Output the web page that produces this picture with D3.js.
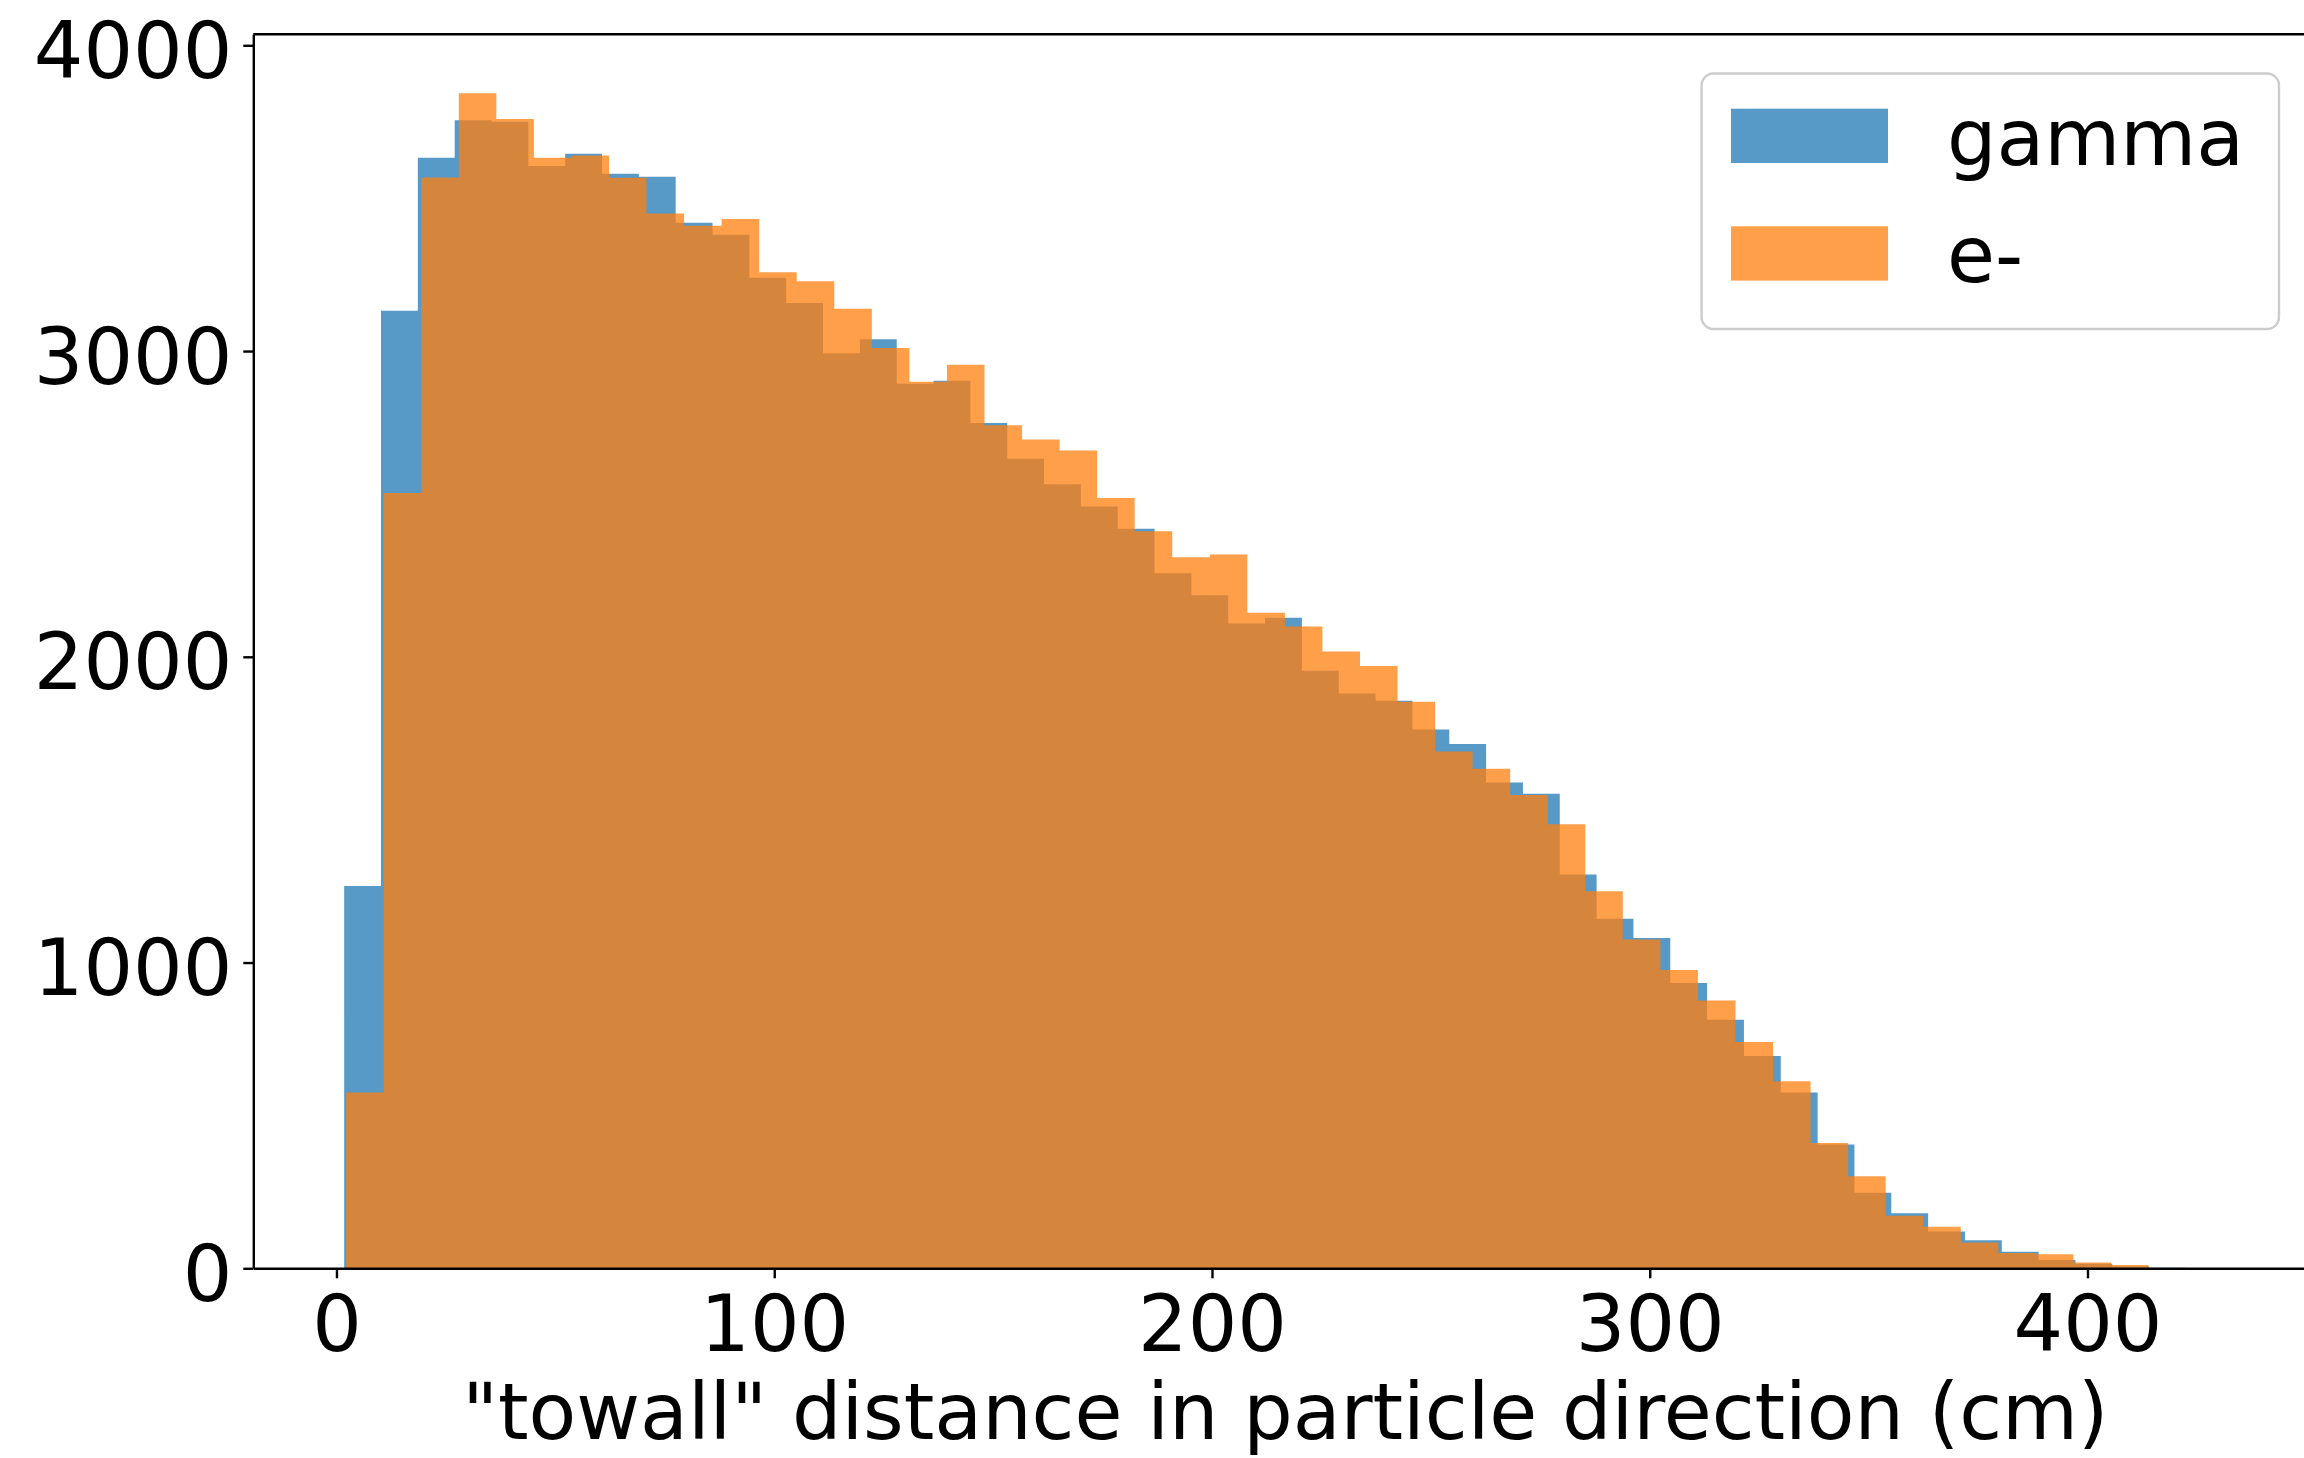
<!DOCTYPE html>
<html>
<head>
<meta charset="utf-8">
<script src="https://cdn.jsdelivr.net/npm/d3@7"></script>
<style>
  html, body { margin: 0; padding: 0; background: #ffffff; }
  svg { display: block; }
  text { font-family: "DejaVu Sans", sans-serif; fill: #000; }
</style>
</head>
<body>
<script>
// Histogram of the "towall" distance for two particle types, 50 equal-width bins each.
const seriesNames = ["gamma", "e-"];
const seriesColors = ["#1f77b4", "#ff7f0e"];
const binCount = 50;

// Data range covered by the bins of each sample (cm)
const gammaRange = [1.76, 422.5];
const electronRange = [2.21, 431.1];

// Counts per bin
const gammaCounts = [
  1250, 3132, 3632, 3755, 3750, 3605, 3645, 3580, 3570, 3420,
  3380, 3240, 3157, 2993, 3039, 2893, 2903, 2765, 2648, 2564,
  2492, 2419, 2273, 2201, 2109, 2128, 1954, 1880, 1856, 1762,
  1715, 1589, 1552, 1288, 1143, 1080, 933, 813, 694, 575,
  405, 247, 180, 120, 92, 54, 27, 15, 6, 2
];
const electronCounts = [
  575, 2536, 3568, 3843, 3759, 3632, 3640, 3567, 3450, 3410,
  3432, 3258, 3228, 3138, 3010, 2900, 2955, 2757, 2711, 2675,
  2519, 2411, 2326, 2335, 2144, 2099, 2017, 1970, 1853, 1690,
  1634, 1548, 1452, 1233, 1075, 976, 876, 740, 612, 410,
  301, 172, 136, 84, 50, 46, 19, 11, 1, 1
];

// Axis ticks
const xTicks = [0, 100, 200, 300, 400];
const yTicks = [0, 1000, 2000, 3000, 4000];
const xLabel = "\"towall\" distance in particle direction (cm)";

const W = 2304, H = 1458;
const plot = { left: 253.3, right: 2317.3, top: 34.3, bottom: 1268.3 };
const fontSize = 78;
const lineW = 2.4;

const svg = d3.select("body").append("svg")
  .attr("width", W).attr("height", H)
  .attr("viewBox", `0 0 ${W} ${H}`);

svg.append("rect").attr("width", W).attr("height", H).attr("fill", "#fff");

const x = d3.scaleLinear().domain([-19.0, 452.5]).range([plot.left, plot.right]);
const y = d3.scaleLinear().domain([0, 4036]).range([plot.bottom, plot.top]);

svg.append("defs").append("clipPath").attr("id", "plot-clip")
  .append("rect")
  .attr("x", plot.left).attr("y", plot.top)
  .attr("width", plot.right - plot.left).attr("height", plot.bottom - plot.top);

function binEdges(range) {
  const w = (range[1] - range[0]) / binCount;
  return d3.range(binCount + 1).map(i => range[0] + i * w);
}

// Step outline of a histogram: one point per bin edge, the last edge repeats the last count
function stepPoints(range, counts) {
  const e = binEdges(range);
  return e.map((edge, i) => ({ edge, count: counts[Math.min(i, counts.length - 1)] }));
}

const series = [
  { name: seriesNames[0], color: seriesColors[0], pts: stepPoints(gammaRange, gammaCounts) },
  { name: seriesNames[1], color: seriesColors[1], pts: stepPoints(electronRange, electronCounts) }
];

const area = d3.area()
  .curve(d3.curveStepAfter)
  .x(d => x(d.edge))
  .y0(y(0))
  .y1(d => y(d.count));

const barsG = svg.append("g").attr("clip-path", "url(#plot-clip)");
series.forEach(s => {
  barsG.append("path")
    .datum(s.pts)
    .attr("d", area)
    .attr("fill", s.color)
    .attr("fill-opacity", 0.75);
});

// Axes
const xAxis = d3.axisBottom(x).tickValues(xTicks).tickFormat(d3.format("d"))
  .tickSize(10).tickSizeOuter(0).tickPadding(17);
const yAxis = d3.axisLeft(y).tickValues(yTicks).tickFormat(d3.format("d"))
  .tickSize(10).tickSizeOuter(0).tickPadding(11);

const gx = svg.append("g").attr("transform", `translate(0,${plot.bottom})`).call(xAxis);
const gy = svg.append("g").attr("transform", `translate(${plot.left},0)`).call(yAxis);

[gx, gy].forEach(g => {
  g.selectAll(".domain").attr("stroke", "#000").attr("stroke-width", lineW);
  g.selectAll(".tick line").attr("stroke", "#000").attr("stroke-width", lineW);
  g.selectAll(".tick text")
    .attr("font-family", "DejaVu Sans")
    .attr("font-size", fontSize)
    .attr("fill", "#000");
});
gy.selectAll(".tick text").attr("dy", "32px");
gx.selectAll(".tick text").attr("dy", "0.71em");

// Top spine
svg.append("line")
  .attr("x1", plot.left).attr("x2", plot.right)
  .attr("y1", plot.top).attr("y2", plot.top)
  .attr("stroke", "#000").attr("stroke-width", lineW);

// Axis label
svg.append("text")
  .attr("x", (plot.left + plot.right) / 2)
  .attr("y", 1439)
  .attr("text-anchor", "middle")
  .attr("font-size", fontSize)
  .text(xLabel);

// Legend
const legend = svg.append("g");
legend.append("rect")
  .attr("x", 1701.6).attr("y", 73.5)
  .attr("width", 577.4).attr("height", 255.5)
  .attr("rx", 12).attr("ry", 12)
  .attr("fill", "#fff").attr("fill-opacity", 0.8)
  .attr("stroke", "#cccccc").attr("stroke-width", lineW);

series.forEach((s, i) => {
  const top = 108.7 + i * 117.6;
  legend.append("rect")
    .attr("x", 1731).attr("y", top)
    .attr("width", 157).attr("height", 54.3)
    .attr("fill", s.color).attr("fill-opacity", 0.75);
  legend.append("text")
    .attr("x", 1947).attr("y", top + 27 + 29)
    .attr("font-size", fontSize)
    .text(s.name);
});
</script>
</body>
</html>
